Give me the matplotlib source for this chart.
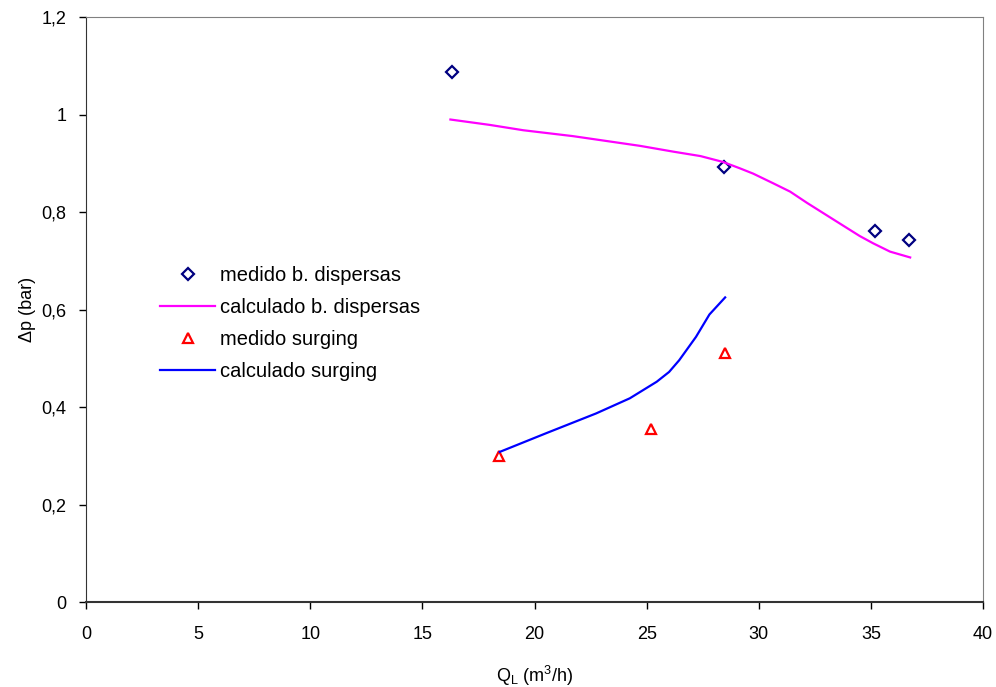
import matplotlib
matplotlib.use('Agg')
import matplotlib.pyplot as plt
from matplotlib.ticker import FuncFormatter

plt.rcParams['font.family'] = ['Liberation Sans', 'DejaVu Sans']
plt.rcParams['mathtext.default'] = 'regular'

# medido b. dispersas
med_bd_x = [16.3, 28.45, 35.2, 36.7]
med_bd_y = [1.088, 0.893, 0.762, 0.742]

# calculado b. dispersas
calc_bd_x = [16.25, 18.0, 19.5, 21.7, 23.2, 24.7, 26.2, 27.4, 28.4, 29.15,
             29.75, 30.65, 31.4, 32.15, 33.6, 34.5, 35.1, 35.85, 36.75]
calc_bd_y = [0.990, 0.979, 0.968, 0.956, 0.946, 0.936, 0.924, 0.915, 0.903, 0.890,
             0.879, 0.859, 0.842, 0.819, 0.777, 0.751, 0.736, 0.719, 0.707]

# medido surging
med_s_x = [18.4, 25.2, 28.5]
med_s_y = [0.300, 0.356, 0.510]

# calculado surging
calc_s_x = [18.45, 20.5, 22.75, 24.25, 25.45, 26.0, 26.45, 27.2, 27.8, 28.5]
calc_s_y = [0.308, 0.346, 0.387, 0.418, 0.452, 0.472, 0.496, 0.544, 0.590, 0.625]

fig = plt.figure(figsize=(9.96, 6.87), dpi=100)
ax = fig.add_axes([0.0863, 0.1237, 0.9007, 0.8513])

ax.plot(med_bd_x, med_bd_y, linestyle='none', marker='D', markersize=6,
        markerfacecolor='white', markeredgecolor='#000080', markeredgewidth=1.6,
        label='medido b. dispersas')
ax.plot(calc_bd_x, calc_bd_y, color='#ff00ff', linewidth=1.6,
        label='calculado b. dispersas')
ax.plot(med_s_x, med_s_y, linestyle='none', marker='^', markersize=7,
        markerfacecolor='white', markeredgecolor='#ff0000', markeredgewidth=1.6,
        label='medido surging')
ax.plot(calc_s_x, calc_s_y, color='#0000ff', linewidth=1.6,
        label='calculado surging')

ax.set_xlim(0, 40)
ax.set_ylim(0, 1.2)
ax.set_xticks(range(0, 41, 5))
ax.set_yticks([0, 0.2, 0.4, 0.6, 0.8, 1.0, 1.2])
ax.yaxis.set_major_formatter(FuncFormatter(lambda v, p: ('%g' % round(v, 1)).replace('.', ',')))
ax.tick_params(direction='out', length=5, width=1, labelsize=13)
ax.tick_params(axis='x', pad=12)
ax.tick_params(axis='y', pad=9)

ax.set_xlabel('Q$_L$ (m$^3$/h)', fontsize=13, labelpad=15)
ax.set_ylabel('Δp (bar)', fontsize=13, labelpad=4)

for s in ['top', 'right']:
    ax.spines[s].set_color('#808080')
for s in ['left', 'bottom']:
    ax.spines[s].set_color('#333333')
ax.spines['bottom'].set_linewidth(1.5)

ax.legend(loc='center left', bbox_to_anchor=(0.0825, 0.476), frameon=False,
          fontsize=14.5, handlelength=2.75, handletextpad=0.25, labelspacing=0.65,
          borderpad=0, borderaxespad=0)

fig.savefig('out.png', dpi=100)
